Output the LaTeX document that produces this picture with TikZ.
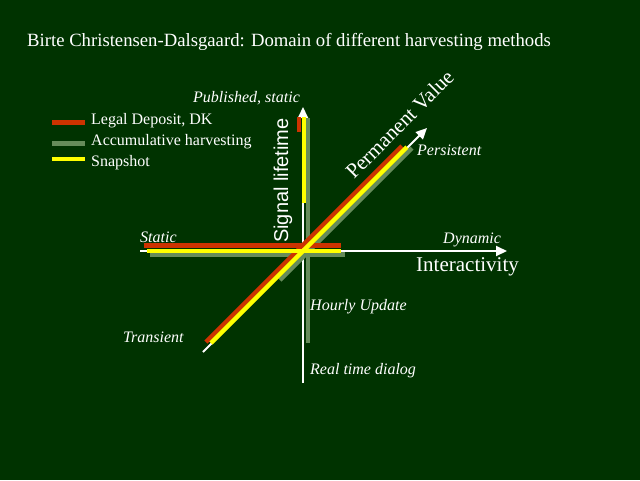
\documentclass[tikz,border=0pt]{standalone}
\usepackage{fontspec}
\setmainfont{Liberation Serif}
\newfontfamily\axisSans{Liberation Sans}
\usetikzlibrary{arrows.meta}
\tikzstyle{slide} = [x = 1pt, y = -1pt]
\definecolor{slideGreen}{RGB}{0,51,0}
\definecolor{depositColor}{RGB}{204,51,0}
\definecolor{accumColor}{RGB}{102,140,90}
\definecolor{snapColor}{RGB}{255,255,0}
\tikzstyle{axisLine} = [color=white, line width=2pt, -{Triangle[length=11pt, width=10pt]}]
\tikzstyle{bandLine} = [line width=4.5pt]
\tikzstyle{plainText} = [text=white, anchor=base west, inner sep=0pt, font=\fontsize{16}{18}\selectfont]
\tikzstyle{axisLabel} = [plainText, font=\fontsize{16}{18}\selectfont\itshape]
\tikzstyle{axisTitle} = [plainText, font=\fontsize{21}{24}\selectfont]
\newcommand{\legendEntry}[5]{\draw [bandLine, color=#2] (52,#1) -- (85,#1); \node [plainText] (#5) at (91,#3) {#4};}

\begin{document}
\begin{tikzpicture}[slide]
  \fill [slideGreen] (0,0) rectangle (640,480);
  \node [plainText, font=\fontsize{18.7}{20}\selectfont] (title) at (27,46) {Birte Christensen-Dalsgaard: Domain of different harvesting methods};

  % legend
  \legendEntry{122.5}{depositColor}{124.5}{Legal Deposit, DK}{deposit}
  \legendEntry{143.5}{accumColor}{145.5}{Accumulative harvesting}{accum}
  \legendEntry{159}{snapColor}{166.5}{Snapshot}{snap}

  % axes
  \draw [axisLine] (303,383) -- (303,107);
  \draw [axisLine] (140,251) -- (507,251);
  \draw [axisLine] (203,352) -- (427,128);

  % accumulative harvesting
  \draw [bandLine, accumColor] (308,118) -- (308,343);
  \draw [bandLine, accumColor] (150,254.5) -- (345,254.5);
  \draw [bandLine, accumColor] (280,280) -- (412,148);
  % legal deposit
  \draw [bandLine, depositColor] (299,117) -- (299,132);
  \draw [bandLine, depositColor] (144,245.5) -- (341,245.5);
  \draw [bandLine, depositColor] (206,342) -- (402,146);
  % snapshot
  \draw [bandLine, snapColor] (304,117) -- (304,203);
  \draw [bandLine, snapColor] (147,251) -- (341,251);
  \draw [bandLine, snapColor] (211,343) -- (407,147);

  % labels
  \node [axisLabel] (published) at (193,102.5) {Published, static};
  \node [axisLabel] (persistent) at (417,155) {Persistent};
  \node [axisLabel] (static) at (140,242) {Static};
  \node [axisLabel] (dynamic) at (443,243) {Dynamic};
  \node [axisLabel] (hourly) at (310,310) {Hourly Update};
  \node [axisLabel] (transient) at (123,342) {Transient};
  \node [axisLabel] (realtime) at (310,374) {Real time dialog};
  \node [axisTitle] (interactivity) at (416,271) {Interactivity};
  \node [axisTitle, font=\fontsize{20}{22}\selectfont\axisSans, rotate=90] (lifetime) at (288,243) {Signal lifetime};
  \node [axisTitle, font=\fontsize{21}{22}\selectfont, rotate=45] (permanent) at (354,180) {Permanent Value};
\end{tikzpicture}
\end{document}
